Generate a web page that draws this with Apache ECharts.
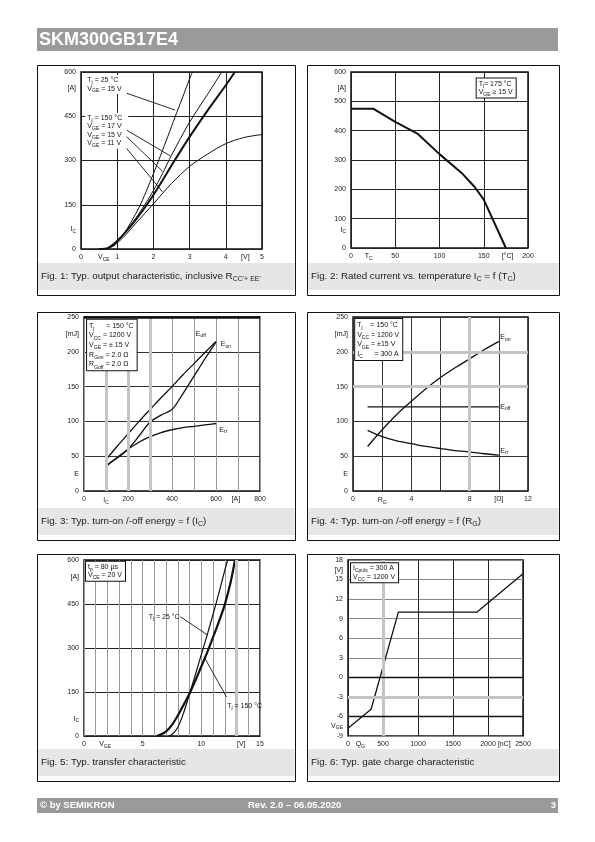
<!DOCTYPE html>
<html><head><meta charset="utf-8">
<script src="https://cdn.jsdelivr.net/npm/echarts@6/dist/echarts.min.js"></script>
<style>html,body{margin:0;padding:0;background:#fff}#c{width:595px;height:842px}</style>
</head><body><div id="c"></div>
<script>
const F = '"Liberation Sans", Arial, Helvetica, sans-serif';

// ---------------- DATA ----------------
// Fig.1 typ. output characteristic [V_CE (V), I_C (A)]
const f1_25C_15V  = [[0.6,0],[0.8,5],[1,25],[1.2,55],[1.4,95],[1.6,140],[1.8,195],[2,255],[2.2,318],[2.4,382],[2.6,448],[2.8,512],[3,577],[3.08,600]];
const f1_150C_17V = [[0.55,0],[0.8,5],[1,27],[1.25,62],[1.5,102],[1.75,148],[2,198],[2.25,255],[2.5,318],[3,430],[3.5,525],[3.89,600]];
const f1_150C_15V = [[0.5,0],[0.75,4],[1,27],[1.25,60],[1.5,97],[1.75,138],[2,183],[2.25,232],[2.5,283],[3,380],[3.5,470],[4,555],[4.25,600]];
const f1_150C_11V = [[0.7,0],[0.9,10],[1,20],[1.25,50],[1.5,85],[2,153],[2.5,222],[3,280],[3.5,322],[4,357],[4.5,378],[5,388]];

// Fig.2 rated current vs case temperature
const f2_Tc = [0,25,50,75,100,125,140,150,175];
const f2_Ic = [475,475,430,390,320,256,207,165,0];

// Fig.3 switching energy vs I_C
const f3_Ic   = [100,150,200,250,300,350,400,450,500,550,600];
const f3_Eon  = [37,47,60,79,99,109,117,140,165,190,214];
const f3_Eoff = [45,64,82,100,117,134,150,167,183,199,215];
const f3_Err  = [35,48,60,70,78,84,88,91,93,95,97];

// Fig.4 switching energy vs R_G
const f4_Rg   = [1,2,3,4,5,6,7,8,9,10];
const f4_Eon  = [64,88,110,129,147,163,177,190,203,215];
const f4_Eoff = [121,121,121,121,121,121,121,121,121,121];
const f4_Err  = [87,78,72,68,64,61,58,56,53.5,51.5];

// Fig.5 transfer characteristic [V_GE (V), I_C (A)]
const f5_25C  = [[7.2,0],[7.5,5],[8,30],[8.5,80],[9,145],[9.5,210],[10,278],[10.5,345],[11,415],[11.5,488],[12,565],[12.25,600]];
const f5_150C = [[6.2,0],[6.5,4],[7,16],[7.5,38],[8,70],[8.5,107],[9,145],[9.5,190],[10,237],[10.5,285],[11,337],[11.5,390],[12,448],[12.5,525],[12.87,600]];

// Fig.6 gate charge
const f6_Qg  = [0,330,720,1840,2500];
const f6_Vge = [-7.8,-4.9,10,10,15.9];

// ---------------- LAYOUT ----------------
const grids = [
  {left:81,  top:72,  width:181, height:177},
  {left:351, top:72,  width:177, height:176},
  {left:84,  top:317, width:176, height:174},
  {left:353, top:317, width:175, height:174},
  {left:84,  top:560, width:176, height:176},
  {left:348, top:560, width:175, height:176}
];
const axX = [
  {min:0,max:5,interval:1,split:'#222'},
  {min:0,max:200,interval:50,split:'#222'},
  {min:0,max:800,interval:100,split:'#999',fmt:v=>v%200===0?String(v):(v===100?'{n|I}{s|C}':'')},
  {min:0,max:12,interval:2,split:'#333',fmt:v=>v%4===0?String(v):(v===2?'{n|R}{s|G}':(v===10?'[Ω]':''))},
  {min:0,max:15,interval:1,split:'#999',fmt:v=>v%5===0?String(v):''},
  {min:0,max:2500,interval:500,split:'#222',fmt:v=>String(v)}
];
const axY = [
  {min:0,max:600,interval:150,split:'#222'},
  {min:0,max:600,interval:100,split:'#222'},
  {min:0,max:250,interval:50,split:'#333'},
  {min:0,max:250,interval:50,split:'#333'},
  {min:0,max:600,interval:150,split:'#222'},
  {min:-9,max:18,interval:3,split:'#888'}
];
// heavy light-grey grid lines (style)
const heavy = [
  {g:2, x:[100,200,300], y:[]},
  {g:3, x:[8], y:[150,200]},
  {g:4, x:[13], y:[]},
  {g:5, x:[500], y:[-3]}
];
// dark emphasised lines (style)
const darkLines = [
  {g:5, y:[0,-6], w:1.3},
  {g:2, y:[250], w:2.5}
];

const chart = echarts.init(document.getElementById('c'), null, {renderer:'canvas', width:595, height:842});

const labRich = {
  n:{fontSize:7, fontFamily:F, color:'#222', lineHeight:9},
  s:{fontSize:5, fontFamily:F, color:'#222', lineHeight:9, height:4, verticalAlign:'bottom'}
};
const xAxis = axX.map((a,i)=>({
  type:'value', gridIndex:i, min:a.min, max:a.max, interval:a.interval,
  axisLine:{show:false}, axisTick:{show:false},
  splitLine:{show:true, lineStyle:{color:a.split, width:1}},
  axisLabel:{fontSize:7, fontFamily:F, color:'#222', margin:5, formatter:a.fmt, rich:labRich}
}));
const yAxis = axY.map((a,i)=>({
  type:'value', gridIndex:i, min:a.min, max:a.max, interval:a.interval,
  axisLine:{show:false}, axisTick:{show:false},
  splitLine:{show:true, lineStyle:{color:a.split, width:1}},
  axisLabel:{fontSize:7, fontFamily:F, color:'#222', margin:5, formatter:v=>String(v)}
}));

function ln(g, data, w, extra){
  return Object.assign({type:'line', xAxisIndex:g, yAxisIndex:g, data:data, showSymbol:false, symbol:'none',
    lineStyle:{color:'#111', width:w}, z:3, animation:false, silent:true}, extra||{});
}
const zip = (a,b)=>a.map((v,i)=>[v,b[i]]);

const series = [];
heavy.forEach(h=>{
  const d = h.x.map(v=>({xAxis:v})).concat(h.y.map(v=>({yAxis:v})));
  series.push({type:'line', xAxisIndex:h.g, yAxisIndex:h.g, data:[], z:1, silent:true, animation:false,
    markLine:{silent:true, symbol:['none','none'], label:{show:false}, animation:false,
      lineStyle:{color:'#c4c4c4', width:3, type:'solid'}, data:d}});
});
darkLines.forEach(h=>{
  series.push({type:'line', xAxisIndex:h.g, yAxisIndex:h.g, data:[], z:2, silent:true, animation:false,
    markLine:{silent:true, symbol:['none','none'], label:{show:false}, animation:false,
      lineStyle:{color:'#111', width:h.w, type:'solid'}, data:h.y.map(v=>({yAxis:v}))}});
});

series.push(ln(0, f1_25C_15V, 1, {smooth:0.3}));
series.push(ln(0, f1_150C_17V, 1, {smooth:0.3}));
series.push(ln(0, f1_150C_15V, 2, {smooth:0.3}));
series.push(ln(0, f1_150C_11V, 1, {smooth:0.3}));
series.push(ln(1, zip(f2_Tc,f2_Ic), 2));
series.push(ln(2, zip(f3_Ic,f3_Eon), 1.3, {smooth:0.3}));
series.push(ln(2, zip(f3_Ic,f3_Eoff), 1.3, {smooth:0.3}));
series.push(ln(2, zip(f3_Ic,f3_Err), 1.3, {smooth:0.3}));
series.push(ln(3, zip(f4_Rg,f4_Eon), 1.3, {smooth:0.3}));
series.push(ln(3, zip(f4_Rg,f4_Eoff), 1.3));
series.push(ln(3, zip(f4_Rg,f4_Err), 1.3, {smooth:0.3}));
series.push(ln(4, f5_25C, 1.2, {smooth:0.3}));
series.push(ln(4, f5_150C, 2.2, {smooth:0.3}));
series.push(ln(5, zip(f6_Qg,f6_Vge), 1.3));

chart.setOption({
  animation:false,
  grid: grids.map(g=>Object.assign({show:true, borderColor:'#111', borderWidth:1.5, backgroundColor:'transparent', containLabel:false}, g)),
  xAxis, yAxis, series
});

// ---------------- TEXT / ANNOTATIONS ----------------
function rt(s){
  return s.split('\n').map(line=>{
    let out='', re=/_\{([^}]*)\}/g, last=0, m;
    while((m=re.exec(line))){ if(m.index>last) out+='{n|'+line.slice(last,m.index)+'}'; out+='{s|'+m[1]+'}'; last=re.lastIndex; }
    if(last<line.length) out+='{n|'+line.slice(last)+'}';
    return out;
  }).join('\n');
}
function rich(fs, lh, col){
  col = col||'#111';
  return {n:{fontSize:fs, fontFamily:F, fill:col, lineHeight:lh},
          s:{fontSize:Math.round(fs*0.7), fontFamily:F, fill:col, lineHeight:lh, height:Math.round(fs*0.55), verticalAlign:'bottom'}};
}
function P(g,x,y){ return chart.convertToPixel({gridIndex:g},[x,y]); }

// annotation texts in data coordinates of their chart
const notes = [
  // fig 1
  {g:0, x:0.12, y:590, t:'T_{j} = 25 °C\nV_{GE} = 15 V', bg:true},
  {g:0, x:0.12, y:462, t:'T_{j} = 150 °C\nV_{GE} = 17 V\nV_{GE} = 15 V\nV_{GE} = 11 V', bg:true},
  {g:0, x:0, y:546, t:'[A]', ax:'l'}, {g:0, x:0, y:68, t:'I_{C}', ax:'l'},
  {g:0, x:0.63, y:0, t:'V_{CE}', ax:'b'}, {g:0, x:4.54, y:0, t:'[V]', ax:'b'},
  // fig 2
  {g:1, x:142, y:578, t:'T_{j}= 175 °C\nV_{GE} ≥ 15 V', box:true},
  {g:1, x:0, y:545, t:'[A]', ax:'l'}, {g:1, x:0, y:62, t:'I_{C}', ax:'l'},
  {g:1, x:20, y:0, t:'T_{C}', ax:'b'}, {g:1, x:177, y:0, t:'[°C]', ax:'b'},
  // fig 3
  {g:2, x:14, y:246, t:'T_{j}      = 150 °C\nV_{CC} = 1200 V\nV_{GE} = ± 15 V\nR_{Gon} = 2.0 Ω\nR_{Goff} = 2.0 Ω', box:true, lh:9.7},
  {g:2, x:0, y:226, t:'[mJ]', ax:'l'}, {g:2, x:0, y:25, t:'E', ax:'l'},
  {g:2, x:690, y:0, t:'[A]', ax:'b'},
  {g:2, x:508, y:226, t:'E_{off}', cl:true}, {g:2, x:622, y:211, t:'E_{on}', cl:true}, {g:2, x:615, y:88, t:'E_{rr}', cl:true},
  // fig 4
  {g:3, x:0.15, y:247, t:'T_{j}    = 150 °C\nV_{CC} = 1200 V\nV_{GE} = ±15 V\nI_{C}      = 300 A', box:true, lh:9.7},
  {g:3, x:0, y:226, t:'[mJ]', ax:'l'}, {g:3, x:0, y:25, t:'E', ax:'l'},
  {g:3, x:10.1, y:221, t:'E_{on}', cl:true}, {g:3, x:10.1, y:121, t:'E_{off}', cl:true}, {g:3, x:10.1, y:58, t:'E_{rr}', cl:true},
  // fig 5
  {g:4, x:0.17, y:594, t:'t_{p} = 80 µs\nV_{CE} = 20 V', box:true},
  {g:4, x:0, y:541, t:'[A]', ax:'l'}, {g:4, x:0, y:59, t:'I_{C}', ax:'l'},
  {g:4, x:1.8, y:0, t:'V_{GE}', ax:'b'}, {g:4, x:13.4, y:0, t:'[V]', ax:'b'},
  {g:4, x:8.15, y:407, t:'T_{j} = 25 °C', cl:true, al:'right'},
  {g:4, x:12.2, y:103, t:'T_{j} = 150 °C', cl:true},
  // fig 6
  {g:5, x:43, y:17.5, t:'I_{Cpuls} = 300 A\nV_{CC} = 1200 V', box:true},
  {g:5, x:0, y:16.5, t:'[V]', ax:'l'}, {g:5, x:0, y:-7.4, t:'V_{GE}', ax:'l'},
  {g:5, x:176, y:-9, t:'Q_{G}', ax:'b'}, {g:5, x:2233, y:-9, t:'[nC]', ax:'b'}
];
const leaders = [
  {g:0, a:[1.26,528], b:[2.6,471]},
  {g:0, a:[1.26,403], b:[2.46,316]},
  {g:0, a:[1.26,381], b:[2.25,264]},
  {g:0, a:[1.26,341], b:[2.25,194]},
  {g:4, a:[8.2,407], b:[10.54,344]},
  {g:4, a:[12.15,133], b:[10.23,270]}
];

const graphic = [];
// header / footer
graphic.push({type:'rect', shape:{x:37,y:28,width:521,height:23}, style:{fill:'#9a9a9a'}});
graphic.push({type:'text', x:39, y:40, style:{text:'SKM300GB17E4', fill:'#fff', font:'bold 18px '+F, verticalAlign:'middle'}});
graphic.push({type:'rect', shape:{x:37,y:798,width:521,height:15}, style:{fill:'#9a9a9a'}});
graphic.push({type:'text', x:40, y:805.5, style:{text:'© by SEMIKRON', fill:'#fff', font:'bold 9.5px '+F, verticalAlign:'middle'}});
graphic.push({type:'text', x:248, y:805.5, style:{text:'Rev. 2.0 – 06.05.2020', fill:'#fff', font:'bold 9.5px '+F, verticalAlign:'middle'}});
graphic.push({type:'text', x:556, y:805.5, style:{text:'3', fill:'#fff', font:'bold 9.5px '+F, verticalAlign:'middle', align:'right'}});

// panels and captions
const rows = [[65,295],[312,540],[554,781]];
const cols = [[37,295],[307,559]];
const captions = [
  'Fig. 1: Typ. output characteristic, inclusive R_{CC\'+ EE\'}',
  'Fig. 2: Rated current vs. temperature I_{C} = f (T_{C})',
  'Fig. 3: Typ. turn-on /-off energy = f (I_{C})',
  'Fig. 4: Typ. turn-on /-off energy = f (R_{G})',
  'Fig. 5: Typ. transfer characteristic',
  'Fig. 6: Typ. gate charge characteristic'
];
rows.forEach((r,ri)=>cols.forEach((c,ci)=>{
  const k = ri*2+ci;
  graphic.push({type:'rect', z:-1, shape:{x:c[0]+0.5,y:r[1]-32,width:c[1]-c[0]-1,height:27}, style:{fill:'#e6e6e6'}});
  graphic.push({type:'rect', z:10, shape:{x:c[0]+0.5,y:r[0]+0.5,width:c[1]-c[0],height:r[1]-r[0]}, style:{fill:null, stroke:'#111', lineWidth:1}});
  graphic.push({type:'text', z:10, x:c[0]+4, y:r[1]-18.5, style:{text:rt(captions[k]), rich:rich(9.8,11,'#1a1a1a'), verticalAlign:'middle'}});
}));

notes.forEach(n=>{
  const p = P(n.g, n.x, n.y);
  const st = {text:rt(n.t), rich:rich(7, n.lh||8.5), fill:'#111'};
  let x=p[0], y=p[1];
  if(n.ax==='l'){ x = grids[n.g].left-5; st.align='right'; st.verticalAlign='middle'; }
  else if(n.ax==='b'){ y = grids[n.g].top+grids[n.g].height+4; st.align='center'; st.verticalAlign='top'; }
  else if(n.cl){ st.align=n.al||'left'; st.verticalAlign='middle'; }
  else { st.align='left'; st.verticalAlign='top'; }
  if(n.bg){ st.backgroundColor='#fff'; st.padding=[1,6,1,2]; }
  if(n.box){ st.backgroundColor='#fff'; st.borderColor='#111'; st.borderWidth=1; st.padding=[1,3,1,2]; }
  graphic.push({type:'text', z:50, x:x, y:y, style:st});
});
leaders.forEach(l=>{
  const a = P(l.g, l.a[0], l.a[1]), b = P(l.g, l.b[0], l.b[1]);
  graphic.push({type:'line', z:60, shape:{x1:a[0],y1:a[1],x2:b[0],y2:b[1]}, style:{stroke:'#111', lineWidth:0.9}});
});

chart.setOption({graphic});
</script>
</body></html>
